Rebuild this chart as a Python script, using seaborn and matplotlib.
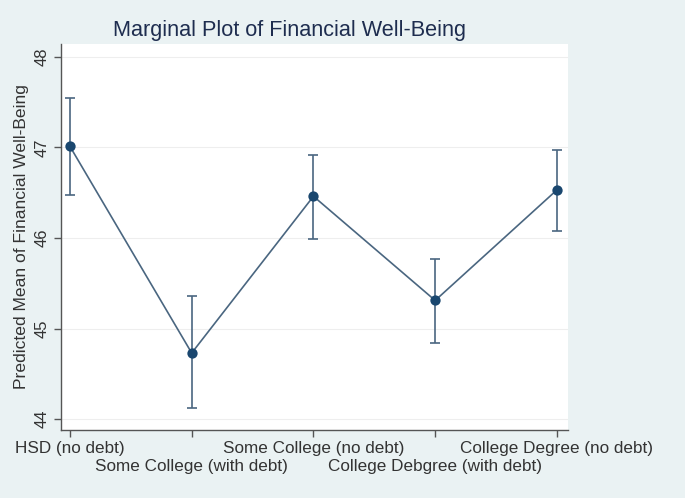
import matplotlib
matplotlib.use("Agg")
import matplotlib.pyplot as plt
import seaborn as sns
import numpy as np

# Values
CATEGORIES = ["HSD (no debt)", "Some College (with debt)", "Some College (no debt)",
              "College Debgree (with debt)", "College Degree (no debt)"]
MEANS = [47.01, 44.73, 46.46, 45.31, 46.53]
CI_LOW = [46.47, 44.12, 45.99, 44.84, 46.08]
CI_HIGH = [47.54, 45.36, 46.92, 45.77, 46.97]
Y_TICKS = [44, 45, 46, 47, 48]

BG = "#eaf2f3"
NAVY = "#1a476f"
LINE = "#4a6680"
TEXT = "#333333"

sns.set_theme(style="white")
plt.rcParams["font.family"] = ["Liberation Sans", "DejaVu Sans"]

fig = plt.figure(figsize=(6.85, 4.98), dpi=100, facecolor=BG)
ax = fig.add_axes([0.089, 0.1365, 0.74, 0.775])
ax.set_facecolor("white")

x = np.arange(len(CATEGORIES))
means = np.array(MEANS)
lo = means - np.array(CI_LOW)
hi = np.array(CI_HIGH) - means

ax.errorbar(x, means, yerr=[lo, hi], fmt="none", ecolor=LINE, elinewidth=1.2,
            capsize=3.6, capthick=1.2, zorder=2)
sns.lineplot(x=x, y=means, ax=ax, color=LINE, linewidth=1.2, zorder=3)
sns.scatterplot(x=x, y=means, ax=ax, color=NAVY, s=55, edgecolor=NAVY,
                linewidth=0, zorder=4)

ax.set_xlim(-0.074, 4.09)
ax.set_ylim(43.88, 48.14)
ax.set_yticks(Y_TICKS)
ax.set_yticklabels([str(t) for t in Y_TICKS], rotation=90, va="center",
                   fontsize=12, color=TEXT)
for t in Y_TICKS:
    ax.axhline(t, color="#eeeeee", linewidth=0.8, zorder=0)

# staggered category labels: even ones on the first row, odd ones below
ax.set_xticks(x[::2])
ax.set_xticklabels(CATEGORIES[::2], fontsize=12.3, color=TEXT)
ax.set_xticks(x[1::2], minor=True)
ax.set_xticklabels(CATEGORIES[1::2], minor=True, fontsize=12.3, color=TEXT)
ax.tick_params(axis="both", which="major", direction="out", length=5, width=1,
               color="#555555", bottom=True, left=True, pad=3)
ax.tick_params(axis="x", which="minor", direction="out", length=5, width=1,
               color="#555555", bottom=True, pad=16)

for s in ["top", "right"]:
    ax.spines[s].set_visible(False)
for s in ["left", "bottom"]:
    ax.spines[s].set_color("#555555")
    ax.spines[s].set_linewidth(1)

ax.set_ylabel("Predicted Mean of Financial Well-Being", fontsize=12.6, color=TEXT,
              labelpad=4)
ax.set_xlabel("")

fig.text(0.422, 0.938, "Marginal Plot of Financial Well-Being", ha="center",
         va="center", fontsize=15.6, color="#1e2d4f")

fig.savefig("out.png", dpi=100, facecolor=BG)
